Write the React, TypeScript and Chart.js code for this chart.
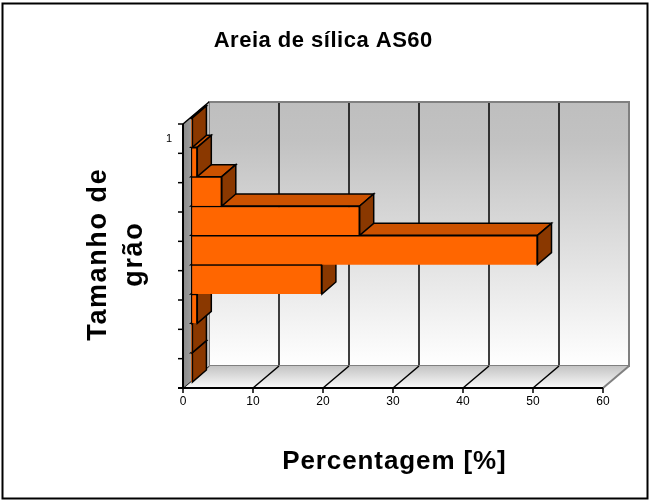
import { useEffect, useRef } from 'react';
import { Chart, registerables } from 'chart.js';

Chart.register(...registerables);

// Chart content
const chartTitle = 'Areia de sílica AS60';
const categoryLabels = ['1', '', '', '', '', '', '', '', ''];
const percentages = [0.2, 0.9, 4.4, 24.1, 49.5, 18.7, 0.9, 0.2, 0.2];
const percentTicks = [0, 10, 20, 30, 40, 50, 60];
const xAxisTitle = 'Percentagem [%]';
const yAxisTitleLines = ['Tamanho de', 'grão'];

// Bar shading
const FRONT_COLOR = '#FF6600';
const TOP_COLOR = '#CC5200';
const SIDE_COLOR = '#8A3800';

// Pseudo-3D offsets, measured from the plane of the bar fronts
const FRONT = { dx: -8, dy: 6 };
const BAR_DEPTH = { dx: 14, dy: -12 };
const BACK = { dx: 18, dy: -16 };

const FONT = '"Liberation Sans", Arial, sans-serif';

function poly(ctx: CanvasRenderingContext2D, pts: number[][]) {
  ctx.beginPath();
  ctx.moveTo(pts[0][0], pts[0][1]);
  for (let i = 1; i < pts.length; i++) ctx.lineTo(pts[i][0], pts[i][1]);
  ctx.closePath();
}

function spacedText(
  ctx: CanvasRenderingContext2D,
  text: string,
  x: number,
  y: number,
  spacing: number
) {
  const c = ctx as any;
  c.letterSpacing = spacing + 'px';
  ctx.fillText(text, x + spacing / 2, y);
  c.letterSpacing = '0px';
}

const depthPlugin = {
  id: 'depth3d',
  beforeDraw(chart: any) {
    const ctx: CanvasRenderingContext2D = chart.ctx;
    ctx.save();
    ctx.fillStyle = '#FFFFFF';
    ctx.fillRect(0, 0, chart.width, chart.height);
    ctx.restore();
  },
  beforeDatasetsDraw(chart: any) {
    const ctx: CanvasRenderingContext2D = chart.ctx;
    const xs = chart.scales.x;
    const area = chart.chartArea;
    const x0 = xs.getPixelForValue(percentTicks[0]);
    const xMax = xs.getPixelForValue(percentTicks[percentTicks.length - 1]);
    const top = area.top;
    const bottom = area.bottom;
    ctx.save();
    ctx.lineJoin = 'miter';

    // back wall
    const bwL = x0 + BACK.dx;
    const bwR = xMax + BACK.dx;
    const bwT = top + BACK.dy;
    const bwB = bottom + BACK.dy;
    const wallGrad = ctx.createLinearGradient(0, bwT, 0, bwB);
    wallGrad.addColorStop(0, '#BEBEBE');
    wallGrad.addColorStop(0.15, '#C2C2C2');
    wallGrad.addColorStop(1, '#FFFFFF');
    ctx.fillStyle = wallGrad;
    ctx.fillRect(bwL, bwT, bwR - bwL, bwB - bwT);

    // vertical gridlines on the back wall
    ctx.strokeStyle = '#000000';
    ctx.lineWidth = 1.5;
    percentTicks.slice(1, -1).forEach((v) => {
      const px = xs.getPixelForValue(v) + BACK.dx;
      ctx.beginPath();
      ctx.moveTo(px, bwT);
      ctx.lineTo(px, bwB);
      ctx.stroke();
    });
    ctx.strokeStyle = '#808080';
    ctx.lineWidth = 2;
    ctx.strokeRect(bwL, bwT, bwR - bwL, bwB - bwT);

    // floor
    const fy = bottom + FRONT.dy;
    const floorGrad = ctx.createLinearGradient(0, bwB, 0, fy);
    floorGrad.addColorStop(0, '#C4C4C4');
    floorGrad.addColorStop(1, '#FAFAFA');
    ctx.fillStyle = floorGrad;
    poly(ctx, [
      [x0 + FRONT.dx, fy],
      [xMax + FRONT.dx, fy],
      [xMax + BACK.dx, bwB],
      [x0 + BACK.dx, bwB],
    ]);
    ctx.fill();
    percentTicks.forEach((v, i) => {
      const px = xs.getPixelForValue(v);
      ctx.strokeStyle = i === percentTicks.length - 1 ? '#808080' : '#000000';
      ctx.lineWidth = i === percentTicks.length - 1 ? 2 : 1.5;
      ctx.beginPath();
      ctx.moveTo(px + FRONT.dx, fy);
      ctx.lineTo(px + BACK.dx, bwB);
      ctx.stroke();
    });

    // left side wall
    const lwGrad = ctx.createLinearGradient(x0 + FRONT.dx, 0, x0 + BACK.dx, 0);
    lwGrad.addColorStop(0, '#8A8A8A');
    lwGrad.addColorStop(1, '#C4C4C4');
    ctx.fillStyle = lwGrad;
    poly(ctx, [
      [x0 + FRONT.dx, top + FRONT.dy],
      [x0 + BACK.dx, bwT],
      [x0 + BACK.dx, bwB],
      [x0 + FRONT.dx, fy],
    ]);
    ctx.fill();
    ctx.strokeStyle = '#000000';
    ctx.lineWidth = 1.5;
    ctx.beginPath();
    ctx.moveTo(x0 + FRONT.dx, top + FRONT.dy);
    ctx.lineTo(x0 + BACK.dx, bwT);
    ctx.stroke();

    // tops and sides of the bars, lowest bar first
    const meta = chart.getDatasetMeta(0);
    ctx.lineWidth = 1.5;
    ctx.strokeStyle = '#000000';
    for (let i = meta.data.length - 1; i >= 0; i--) {
      const el = meta.data[i];
      const p = el.getProps(['x', 'y', 'base', 'height'], true);
      const l = Math.min(p.base, p.x);
      const r = Math.max(p.base, p.x);
      const t = p.y - p.height / 2;
      const b = p.y + p.height / 2;
      ctx.fillStyle = TOP_COLOR;
      poly(ctx, [
        [l, t],
        [r, t],
        [r + BAR_DEPTH.dx, t + BAR_DEPTH.dy],
        [l + BAR_DEPTH.dx, t + BAR_DEPTH.dy],
      ]);
      ctx.fill();
      ctx.stroke();
      ctx.fillStyle = SIDE_COLOR;
      poly(ctx, [
        [r, t],
        [r + BAR_DEPTH.dx, t + BAR_DEPTH.dy],
        [r + BAR_DEPTH.dx, b + BAR_DEPTH.dy],
        [r, b],
      ]);
      ctx.fill();
      ctx.stroke();
    }
    ctx.restore();
  },
  afterDatasetsDraw(chart: any) {
    const ctx: CanvasRenderingContext2D = chart.ctx;
    const xs = chart.scales.x;
    const ys = chart.scales.y;
    const area = chart.chartArea;
    const x0 = xs.getPixelForValue(percentTicks[0]);
    const xMax = xs.getPixelForValue(percentTicks[percentTicks.length - 1]);
    const axisX = x0 + FRONT.dx;
    const axisTop = area.top + FRONT.dy;
    const axisY = area.bottom + FRONT.dy;
    const catH = (area.bottom - area.top) / categoryLabels.length;
    ctx.save();
    ctx.strokeStyle = '#000000';
    ctx.lineWidth = 2;
    ctx.lineCap = 'butt';

    // front category axis
    ctx.beginPath();
    ctx.moveTo(axisX, axisTop);
    ctx.lineTo(axisX, axisY);
    ctx.stroke();
    ctx.lineWidth = 1.5;
    for (let k = 0; k <= categoryLabels.length; k++) {
      const ty = axisTop + k * catH;
      ctx.beginPath();
      ctx.moveTo(axisX - 5, ty);
      ctx.lineTo(axisX, ty);
      ctx.stroke();
    }
    ctx.fillStyle = '#000000';
    ctx.font = `11px ${FONT}`;
    ctx.textAlign = 'right';
    ctx.textBaseline = 'middle';
    categoryLabels.forEach((lab, i) => {
      if (!lab) return;
      ctx.fillText(lab, axisX - 11, ys.getPixelForValue(i) + FRONT.dy);
    });

    // front value axis
    ctx.lineWidth = 2;
    ctx.beginPath();
    ctx.moveTo(axisX - 5, axisY);
    ctx.lineTo(xMax + FRONT.dx, axisY);
    ctx.stroke();
    ctx.lineWidth = 1.5;
    ctx.textAlign = 'center';
    ctx.font = `12px ${FONT}`;
    percentTicks.forEach((v) => {
      const px = xs.getPixelForValue(v) + FRONT.dx;
      ctx.beginPath();
      ctx.moveTo(px, axisY);
      ctx.lineTo(px, axisY + 5);
      ctx.stroke();
      ctx.fillText(String(v), px, axisY + 14);
    });

    // titles
    ctx.textBaseline = 'alphabetic';
    ctx.textAlign = 'center';
    ctx.font = `bold 22px ${FONT}`;
    spacedText(ctx, chartTitle, 323, 47, 0.5);

    ctx.font = `bold 26px ${FONT}`;
    spacedText(ctx, xAxisTitle, 394, 469, 0.9);

    ctx.font = `bold 27px ${FONT}`;
    const baselines = [106, 142];
    yAxisTitleLines.forEach((line, i) => {
      ctx.save();
      ctx.translate(baselines[i], 255);
      ctx.rotate(-Math.PI / 2);
      spacedText(ctx, line, 0, 0, 1.6);
      ctx.restore();
    });

    // outer frame
    ctx.lineWidth = 2;
    ctx.strokeStyle = '#000000';
    ctx.strokeRect(2.5, 3.5, 645, 495);
    ctx.restore();
  },
};

export default function App() {
  const canvasRef = useRef<HTMLCanvasElement | null>(null);

  useEffect(() => {
    const canvas = canvasRef.current;
    if (!canvas) return;
    const chart = new Chart(canvas, {
      type: 'bar',
      data: {
        labels: categoryLabels,
        datasets: [
          {
            data: percentages,
            backgroundColor: FRONT_COLOR,
            borderColor: '#000000',
            borderWidth: 1.5,
            borderSkipped: 'bottom',
            barPercentage: 1,
            categoryPercentage: 1,
          },
        ],
      },
      options: {
        indexAxis: 'y',
        responsive: false,
        animation: false,
        events: [],
        layout: { padding: { left: 191, right: 39, top: 118, bottom: 119 } },
        scales: {
          x: {
            type: 'linear',
            min: percentTicks[0],
            max: percentTicks[percentTicks.length - 1],
            display: false,
            ticks: { stepSize: 10 },
          },
          y: { type: 'category', display: false },
        },
        plugins: {
          legend: { display: false },
          title: { display: false },
          tooltip: { enabled: false },
        },
      },
      plugins: [depthPlugin],
    });
    return () => chart.destroy();
  }, []);

  return (
    <div style={{ position: 'absolute', left: 0, top: 0, width: 650, height: 501 }}>
      <canvas ref={canvasRef} width={650} height={501} style={{ display: 'block' }} />
    </div>
  );
}
